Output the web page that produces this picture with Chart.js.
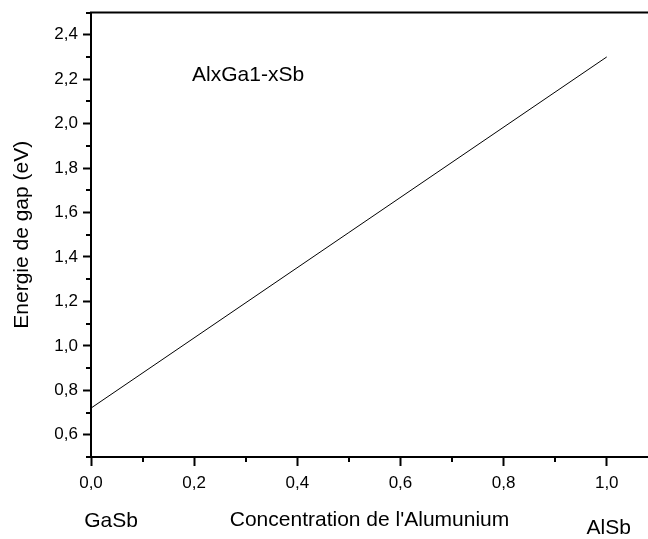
<!DOCTYPE html>
<html>
<head>
<meta charset="utf-8">
<script src="https://cdn.jsdelivr.net/npm/chart.js@4"></script>
<style>
  html, body { margin: 0; padding: 0; background: #fff; }
  #gap { display: block; }
</style>
</head>
<body>
<canvas id="gap" width="648" height="539"></canvas>
<script>
'use strict';

// composition x (Al fraction) and band gap in eV
const xValues = [0.0, 1.0];
const gapValues = [0.72, 2.3];

const xTicks = [0.0, 0.2, 0.4, 0.6, 0.8, 1.0];
const xMinorTicks = [0.1, 0.3, 0.5, 0.7, 0.9];
const yTicks = [0.6, 0.8, 1.0, 1.2, 1.4, 1.6, 1.8, 2.0, 2.2, 2.4];
const yMinorTicks = [0.5, 0.7, 0.9, 1.1, 1.3, 1.5, 1.7, 1.9, 2.1, 2.3, 2.5];

const FONT = 'Arial, "Liberation Sans", sans-serif';

function comma(v) {
    return Number(v).toFixed(1).replace('.', ',');
}

// minor ticks, top frame line and the free text labels
const extras = {
    id: 'extras',
    afterDraw(chart) {
        const ctx = chart.ctx;
        const area = chart.chartArea;
        const sx = chart.scales.x;
        const sy = chart.scales.y;
        ctx.save();
        ctx.strokeStyle = '#000';
        ctx.lineWidth = 2;
        ctx.beginPath();
        ctx.moveTo(area.left - 1, area.top);
        ctx.lineTo(chart.width, area.top);
        xMinorTicks.forEach(v => {
            let px = Math.round(sx.getPixelForValue(v));
            ctx.moveTo(px, area.bottom);
            ctx.lineTo(px, area.bottom + 5);
        });
        yMinorTicks.forEach(v => {
            let py = Math.round(sy.getPixelForValue(v));
            ctx.moveTo(area.left, py);
            ctx.lineTo(area.left - 5, py);
        });
        ctx.stroke();

        ctx.fillStyle = '#000';
        ctx.font = '21px ' + FONT;
        ctx.textBaseline = 'alphabetic';
        ctx.textAlign = 'left';
        ctx.fillText('AlxGa1-xSb', sx.getPixelForValue(0.196), sy.getPixelForValue(2.19));
        ctx.textAlign = 'center';
        ctx.fillText('GaSb', sx.getPixelForValue(0) + 20, 527);
        ctx.fillText('AlSb', sx.getPixelForValue(1.0) + 2, 534);
        ctx.restore();
    }
};

let ctx = document.getElementById('gap').getContext('2d');
let gapChart = new Chart(ctx, {
    type: 'scatter',
    data: {
        datasets: [{
            label: 'AlxGa1-xSb',
            data: xValues.map((x, i) => ({ x: x, y: gapValues[i] })),
            showLine: true,
            borderColor: '#000',
            borderWidth: 1,
            pointRadius: 0,
            fill: false
        }]
    },
    options: {
        responsive: false,
        devicePixelRatio: 1,
        animation: false,
        layout: { padding: { top: 12.5, right: 0, left: 0, bottom: 0 } },
        plugins: {
            legend: { display: false },
            tooltip: { enabled: false }
        },
        scales: {
            x: {
                type: 'linear',
                position: 'bottom',
                min: 0,
                max: 1.08,
                afterBuildTicks: scale => { scale.ticks = xTicks.map(v => ({ value: v })); },
                afterFit: scale => {
                    scale.height = 82;
                    scale.paddingLeft = 0;
                    scale.paddingRight = 0;
                },
                grid: {
                    drawOnChartArea: false,
                    drawTicks: true,
                    tickLength: 9,
                    tickColor: '#000',
                    tickWidth: 2
                },
                border: { display: true, color: '#000', width: 2 },
                ticks: {
                    color: '#000',
                    font: { family: FONT, size: 17 },
                    padding: 7,
                    maxRotation: 0,
                    callback: v => comma(v)
                },
                title: {
                    display: true,
                    text: "Concentration de l'Alumunium",
                    color: '#000',
                    font: { family: FONT, size: 21 },
                    padding: { top: 0, bottom: 6 }
                }
            },
            y: {
                type: 'linear',
                min: 0.5,
                max: 2.5,
                afterBuildTicks: scale => { scale.ticks = yTicks.map(v => ({ value: v })); },
                afterFit: scale => {
                    scale.width = 91;
                    scale.paddingTop = 0;
                    scale.paddingBottom = 0;
                },
                grid: {
                    drawOnChartArea: false,
                    drawTicks: true,
                    tickLength: 8,
                    tickColor: '#000',
                    tickWidth: 2
                },
                border: { display: true, color: '#000', width: 2 },
                ticks: {
                    color: '#000',
                    font: { family: FONT, size: 17 },
                    padding: 5,
                    callback: v => comma(v)
                },
                title: {
                    display: true,
                    text: 'Energie de gap (eV)',
                    color: '#000',
                    font: { family: FONT, size: 21 },
                    padding: { top: 10, bottom: 0 }
                }
            }
        }
    },
    plugins: [extras]
});
</script>
</body>
</html>
